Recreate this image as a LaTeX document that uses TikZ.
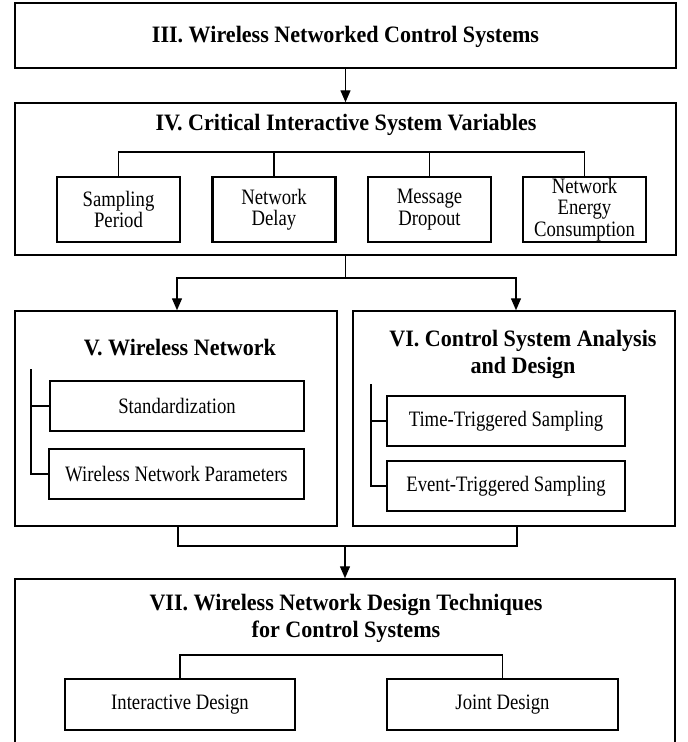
\documentclass[tikz,border=0pt]{standalone}
\usepackage{fontspec}
\setmainfont{Liberation Serif}
\newfontfamily\condreg[FakeStretch=0.85]{Liberation Serif}
\newfontfamily\condttl[FakeStretch=0.94]{Liberation Serif}
\usetikzlibrary{arrows.meta}
\begin{document}
\begin{tikzpicture}[x=1pt,y=-1pt,
  outer/.style={draw, line width=1.5pt, rectangle, inner sep=0pt},
  innerbox/.style={draw, line width=2.8pt, rectangle, inner sep=0pt, align=center,
    font=\condreg\fontsize{22}{21.5}\selectfont},
  ttl/.style={align=center, inner sep=0pt, font=\condttl\fontsize{23.5}{27}\selectfont\bfseries},
  conn/.style={line width=1.4pt},
  arr/.style={conn, -{Triangle[width=10pt,length=12pt]}}
]
\useasboundingbox (0,0) rectangle (688,742);
\clip (0,0) rectangle (688,742);

% Section III
\node[outer, minimum width=661pt, minimum height=65pt] (iii) at (345.5,35.5) {};
\node[ttl] (iiit) at (345.5,37) {III. Wireless Networked Control Systems};

% Section IV
\node[outer, minimum width=661pt, minimum height=152pt] (iv) at (345.5,179) {};
\node[ttl] (ivt) at (346,125) {IV. Critical Interactive System Variables};
\node[innerbox, minimum width=123pt, minimum height=65pt] (sp) at (118.5,209.5) {Sampling\\Period};
\node[innerbox, minimum width=123pt, minimum height=65pt] (nd) at (274,209.5) {Network\\Delay};
\node[innerbox, minimum width=123pt, minimum height=65pt] (md) at (429.5,209.5) {Message\\Dropout};
\node[innerbox, minimum width=123pt, minimum height=65pt] (nec) at (584.5,209.5) {Network\\Energy\\Consumption};
\coordinate (b4) at (345,152);
\draw[conn] (sp.north) |- (b4) -| (nec.north);
\draw[conn] (nd.north) -- (nd.north |- b4);
\draw[conn] (md.north) -- (md.north |- b4);

% Section V
\node[outer, minimum width=322pt, minimum height=215pt] (v) at (176,418.5) {};
\node[ttl] (vt) at (180,348) {V. Wireless Network};
\node[innerbox, minimum width=254pt, minimum height=50pt] (std) at (177,406) {Standardization};
\node[innerbox, minimum width=255pt, minimum height=50pt] (wnp) at (176.5,474) {Wireless Network Parameters};
\coordinate (vtop) at (31,369);
\draw[conn] (vtop) |- (wnp.west);
\draw[conn] (std.west -| vtop) -- (std.west);

% Section VI
\node[outer, minimum width=322pt, minimum height=215pt] (vi) at (514,418.5) {};
\node[ttl] (vit) at (523,354) {VI. Control System Analysis\\and Design};
\node[innerbox, minimum width=238pt, minimum height=50pt] (tts) at (506,421) {Time-Triggered Sampling};
\node[innerbox, minimum width=238pt, minimum height=50pt] (ets) at (506,486) {Event-Triggered Sampling};
\coordinate (vitop) at (371,384);
\draw[conn] (vitop) |- (ets.west);
\draw[conn] (tts.west -| vitop) -- (tts.west);

% Section VII
\node[outer, minimum width=660pt, minimum height=201pt] (vii) at (345,679.5) {};
\node[ttl] (viit) at (346,618) {VII. Wireless Network Design Techniques\\for Control Systems};
\node[innerbox, minimum width=230pt, minimum height=51pt] (id) at (180,704.5) {Interactive Design};
\node[innerbox, minimum width=231pt, minimum height=51pt] (jd) at (502.5,704.5) {Joint Design};
\coordinate (b7) at (341,655);
\draw[conn] (id.north) |- (b7) -| (jd.north);

% Connectors between sections
\draw[arr] (iii.south) -- (iv.north);
\coordinate (j1) at (345.5,278);
\draw[conn] (iv.south) -- (j1);
\draw[arr] (j1) -| ([xshift=1pt]v.north);
\draw[arr] (j1) -| ([xshift=2pt]vi.north);
\coordinate (jb) at (345,546);
\draw[conn] ([xshift=2pt]v.south) |- (jb) -| ([xshift=3pt]vi.south);
\draw[arr] (jb) -- (vii.north);
\end{tikzpicture}
\end{document}
